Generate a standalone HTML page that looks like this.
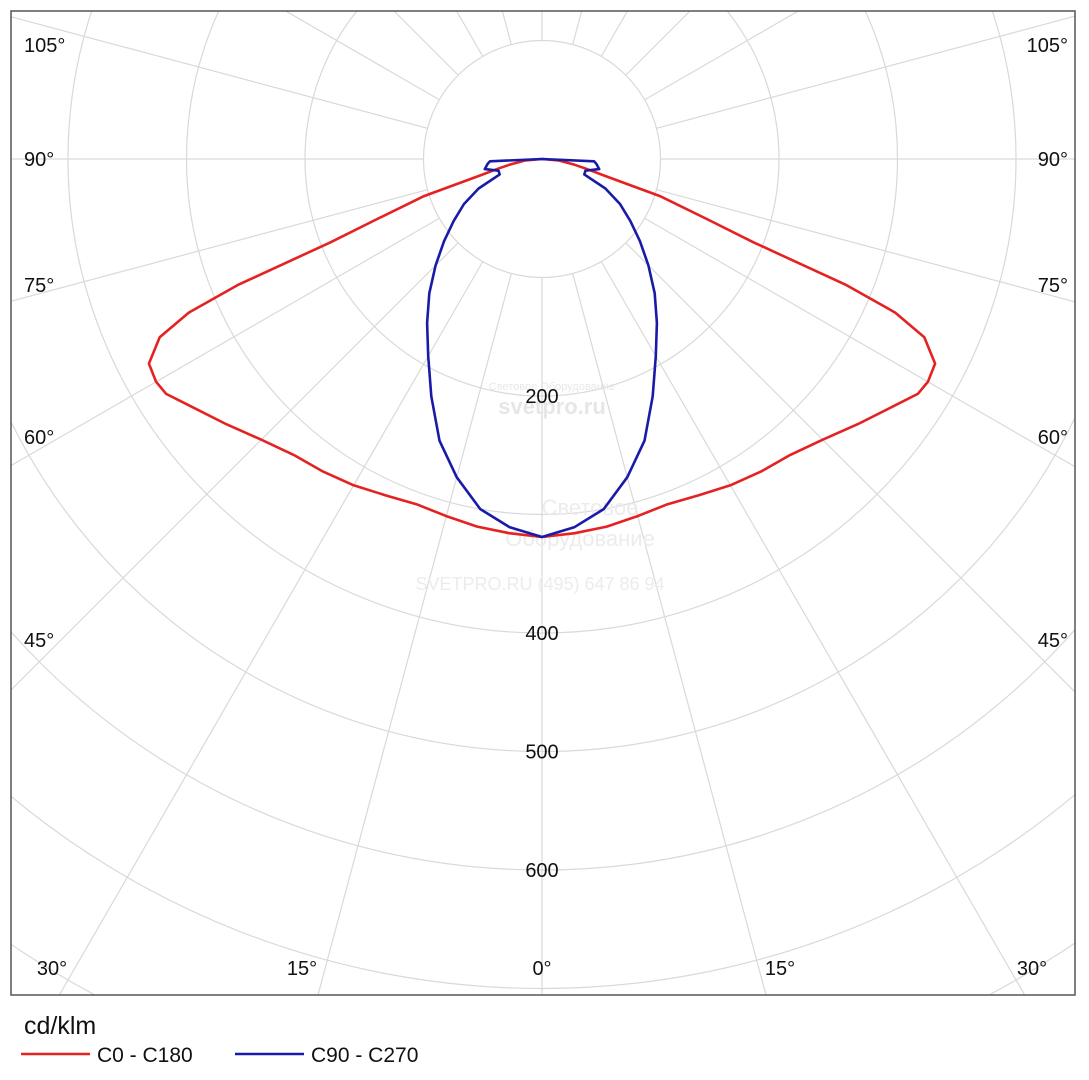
<!DOCTYPE html>
<html><head><meta charset="utf-8"><style>
html,body{margin:0;background:#fff;width:1089px;height:1080px;overflow:hidden}
svg{display:block}
text{font-family:"Liberation Sans",sans-serif}
</style></head><body>
<svg id="chart" width="1089" height="1080">
<defs><clipPath id="clip"><rect x="11" y="11" width="1064" height="984"/></clipPath></defs>
<g id="grid" clip-path="url(#clip)"></g>
<g id="wm" text-anchor="middle">
<text x="552" y="390" font-size="11" fill="#e8e8e8">Световое Оборудование</text>
<text x="552" y="414" font-size="22" fill="#e6e6e6" font-weight="bold">svetpro.ru</text>
<text x="590" y="515" font-size="22" fill="#ececec">Световое</text>
<text x="580" y="546" font-size="22" fill="#ececec">Оборудование</text>
<text x="540" y="590" font-size="18" fill="#ececec">SVETPRO.RU  (495) 647 86 94</text>
</g>
<g id="series" clip-path="url(#clip)"></g>
<g id="labels" font-size="20" fill="#111"></g>
<rect x="11" y="11" width="1064" height="984" fill="none" stroke="#555" stroke-width="1.5"/>
<text x="24" y="1034" font-size="25" fill="#111">cd/klm</text>
<g>
<line x1="21" y1="1054" x2="90" y2="1054" stroke="#e52222" stroke-width="2.5"/>
<text x="97" y="1062" font-size="21" fill="#111">C0 - C180</text></g>
<g>
<line x1="235" y1="1054" x2="304" y2="1054" stroke="#1a1aa8" stroke-width="2.5"/>
<text x="311" y="1062" font-size="21" fill="#111">C90 - C270</text></g>
</svg>
<script>
const angles=[0,5,10,15,20,25,30,35,40,45,50,55,58,60,62.5,65,66.5,67.5,68.5,70,72.5,75,77.5,80,85,90];
const redValues=[319,317,315,312,310,313,318,322,326,335,348,363,374,376,374,356,325,278,192,148,105,55,38,28,14,0];
const blueAngles=[0,5,10,15,20,25,30,35,40,45,50,55,60,65,70,75,80,85,87.5,90];
const blueValues=[319,312,300,278,253,221,192,169,148,127,108,91,76,59,38,38,49,46,44,0];
const radialTicks=[200,400,500,600];
const gridCircles=[100,200,300,400,500,600,700,800,900];
const NS='http://www.w3.org/2000/svg';
const cx=542,cy=159,k=1.185;
function px(a,r,side){const t=a*Math.PI/180;return [cx+side*r*k*Math.sin(t),cy+r*k*Math.cos(t)];}
const grid=document.getElementById('grid');
gridCircles.forEach(v=>{const c=document.createElementNS(NS,'circle');
c.setAttribute('cx',cx);c.setAttribute('cy',cy);c.setAttribute('r',v*k);
c.setAttribute('fill','none');c.setAttribute('stroke','#d9d9d9');c.setAttribute('stroke-width','1.2');


grid.appendChild(c);});
for(let a=0;a<360;a+=15){const t=a*Math.PI/180;const l=document.createElementNS(NS,'line');
l.setAttribute('x1',cx+100*k*Math.sin(t));l.setAttribute('y1',cy+100*k*Math.cos(t));
l.setAttribute('x2',cx+1200*k*Math.sin(t));l.setAttribute('y2',cy+1200*k*Math.cos(t));
l.setAttribute('stroke','#d9d9d9');l.setAttribute('stroke-width','1.2');


grid.appendChild(l);}
function curve(ang,vals,color,name){let pts=[];
for(let i=ang.length-1;i>=0;i--)pts.push(px(ang[i],vals[i],-1));
for(let i=1;i<ang.length;i++)pts.push(px(ang[i],vals[i],1));
const p=document.createElementNS(NS,'path');
p.setAttribute('d','M'+pts.map(q=>q[0].toFixed(1)+','+q[1].toFixed(1)).join('L'));
p.setAttribute('fill','none');p.setAttribute('stroke',color);p.setAttribute('stroke-width','2.6');p.setAttribute('stroke-linejoin','round');


document.getElementById('series').appendChild(p);}
curve(angles,redValues,'#e52222','series-c0-c180');
curve(blueAngles,blueValues,'#1a1aa8','series-c90-c270');
const lab=document.getElementById('labels');
function addText(x,y,s,anchor,name){const t=document.createElementNS(NS,'text');
t.setAttribute('x',x);t.setAttribute('y',y);t.setAttribute('text-anchor',anchor);t.textContent=s;


lab.appendChild(t);}
radialTicks.forEach(v=>addText(cx,cy+v*k+7,String(v),'middle','radial-tick-label'));
[[105,52],[90,166],[75,292],[60,444],[45,647]].forEach(([a,y])=>{
addText(24,y,a+'°','start','angle-label-left');addText(1068,y,a+'°','end','angle-label-right');});
[[30,52],[15,302],[0,542],[15,780],[30,1032]].forEach(([a,x])=>addText(x,975,a+'°','middle','angle-label-bottom'));
</script>
</body></html>
